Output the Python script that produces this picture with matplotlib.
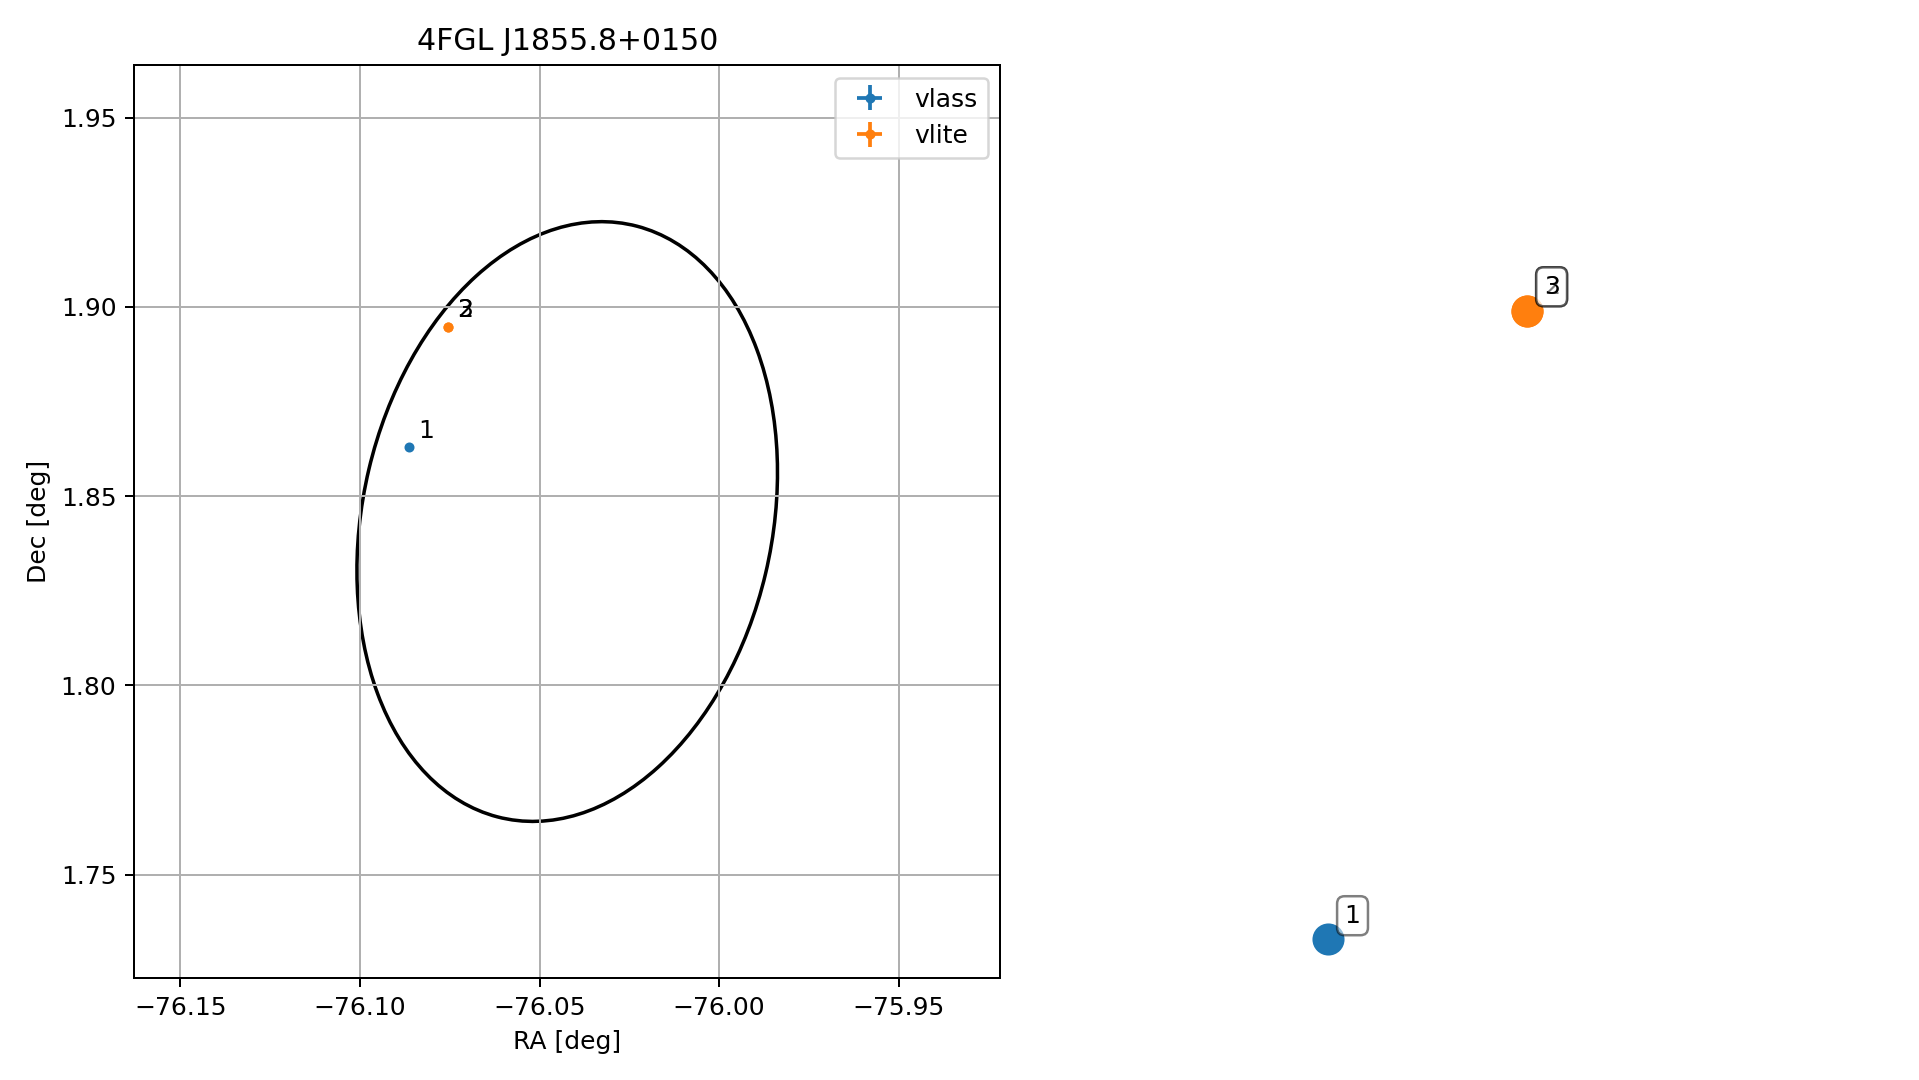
import numpy as np
import matplotlib
matplotlib.use("Agg")
import matplotlib.pyplot as plt
from matplotlib.patches import Ellipse

# 4FGL source and its 95% error ellipse
src_name = "4FGL J1855.8+0150"
src_ra = -76.0423
src_dec = 1.8433
semi_major = 0.0804
semi_minor = 0.0569
pos_ang = 14.0

# radio counterparts
vlass_ra = [-76.0863]
vlass_dec = [1.8630]
vlass_err = [0.0004]
vlass_id = ["1"]

vlite_ra = [-76.0756, -76.0756]
vlite_dec = [1.8948, 1.8948]
vlite_err = [0.0006, 0.0006]
vlite_id = ["2", "3"]

fig = plt.figure(figsize=(10.662, 6.0), dpi=180)
ax = fig.add_axes([0.0698, 0.0944, 0.4515, 0.8454])

ax.errorbar(vlass_ra, vlass_dec, xerr=vlass_err, yerr=vlass_err, fmt='.', label='vlass')
ax.errorbar(vlite_ra, vlite_dec, xerr=vlite_err, yerr=vlite_err, fmt='.', label='vlite')
for r, d, s in zip(vlass_ra + vlite_ra, vlass_dec + vlite_dec, vlass_id + vlite_id):
    ax.annotate(s, (r, d), xytext=(3.7, 3.7), textcoords='offset points')

ell = Ellipse((src_ra, src_dec), 2 * semi_minor, 2 * semi_major, angle=-pos_ang,
              fill=False, ec='k', lw=1.4)
ax.add_patch(ell)

ax.set_xlim(src_ra - 1.5 * semi_major, src_ra + 1.5 * semi_major)
ax.set_ylim(src_dec - 1.5 * semi_major, src_dec + 1.5 * semi_major)
ax.grid(True)
ax.legend(loc='upper right')
ax.set_xlabel("RA [deg]")
ax.set_ylabel("Dec [deg]")
ax.set_title(src_name)

# zoomed view of the counterparts, no axes
ax2 = fig.add_axes([0.6867, 0.1010, 0.1141, 0.6406])
ax2.scatter(vlass_ra, vlass_dec, s=140, color='C0', clip_on=False)
ax2.scatter(vlite_ra, vlite_dec, s=140, color='C1', clip_on=False)
for r, d, s in zip(vlass_ra + vlite_ra, vlass_dec + vlite_dec, vlass_id + vlite_id):
    ax2.annotate(s, (r, d), xytext=(6.7, 6.7), textcoords='offset points',
                 bbox=dict(boxstyle='round', fc='w', ec='k', alpha=0.5))
ax2.axis('off')

fig.savefig("out.png", dpi=180)
